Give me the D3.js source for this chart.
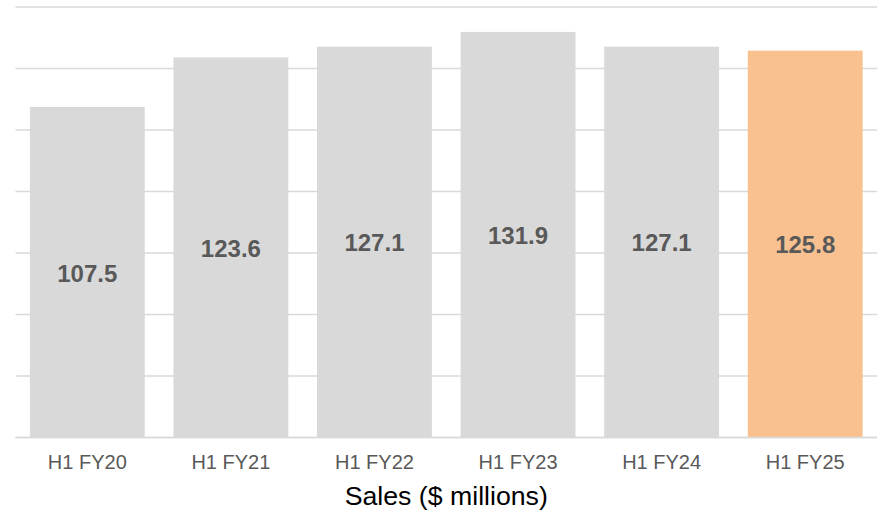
<!DOCTYPE html>
<html><head><meta charset="utf-8">
<script src="https://cdn.jsdelivr.net/npm/d3@7"></script>
<style>body{margin:0;background:#fff}svg{display:block}</style>
</head><body><svg id="c" width="880" height="513"></svg>
<script>
const categories = ["H1 FY20","H1 FY21","H1 FY22","H1 FY23","H1 FY24","H1 FY25"];
const sales = [107.5, 123.6, 127.1, 131.9, 127.1, 125.8];
const gridTicks = [0,20,40,60,80,100,120,140];
const axisTitle = "Sales ($ millions)";
const highlight = "H1 FY25";

(function(){
const svg = d3.select("#c");
const mLeft = 15.5, mRight = 877, mTop = 7, mBottom = 437.5;
const x = d3.scaleBand().domain(categories).range([mLeft, mRight]).paddingInner(0.2).paddingOuter(0.1);
const y = d3.scaleLinear().domain([0,140]).range([mBottom, mTop]);

svg.append("g").selectAll("line").data(gridTicks).join("line")
  .attr("x1", mLeft).attr("x2", mRight)
  .attr("y1", d => y(d)).attr("y2", d => y(d))
  .attr("stroke", "#d9d9d9").attr("stroke-width", 1.5);

svg.append("g").selectAll("rect").data(sales).join("rect")
  .attr("x", (d,i) => x(categories[i]))
  .attr("width", x.bandwidth())
  .attr("y", d => y(d))
  .attr("height", d => y(0) - y(d))
  .attr("fill", (d,i) => categories[i] === highlight ? "#f9c190" : "#d9d9d9");

svg.append("line").attr("x1", mLeft).attr("x2", mRight).attr("y1", y(0)).attr("y2", y(0))
  .attr("stroke", "#d9d9d9").attr("stroke-width", 1.5);

svg.append("g").selectAll("text").data(sales).join("text")
  .attr("x", (d,i) => x(categories[i]) + x.bandwidth()/2)
  .attr("y", d => (y(d) + y(0))/2 + 1)
  .attr("dy", "0.35em")
  .attr("text-anchor", "middle")
  .attr("font-family", "Arial, 'Liberation Sans', sans-serif")
  .attr("font-weight", "bold").attr("font-size", 24).attr("fill", "#595959")
  .text(d => d.toFixed(1));

const xa = svg.append("g").attr("transform", `translate(0,${mBottom})`)
  .call(d3.axisBottom(x).tickSize(0).tickPadding(17));
xa.select(".domain").remove();
xa.selectAll("text").attr("font-family", "Arial, 'Liberation Sans', sans-serif")
  .attr("font-size", 20).attr("fill", "#595959");

svg.append("text").attr("x", (mLeft+mRight)/2).attr("y", 496).attr("dy","0.35em")
  .attr("text-anchor","middle")
  .attr("font-family", "Arial, 'Liberation Sans', sans-serif")
  .attr("font-size", 26.7).attr("fill", "#000")
  .text(axisTitle);
})();
</script></body></html>
